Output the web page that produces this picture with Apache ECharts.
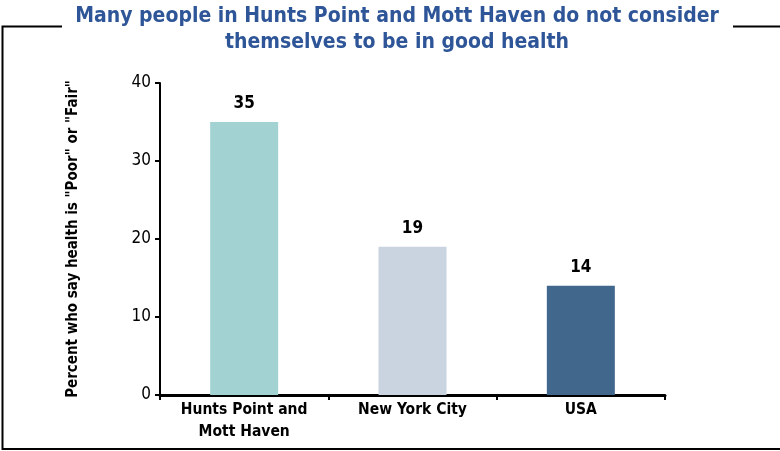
<!DOCTYPE html>
<html>
<head>
<meta charset="utf-8">
<script src="https://cdn.jsdelivr.net/npm/echarts@6/dist/echarts.min.js"></script>
<style>
  html, body { margin: 0; padding: 0; background: #fff; }
  #chart { width: 780px; height: 451px; }
</style>
</head>
<body>
<div id="chart"></div>
<script>
const categories = ['Hunts Point and\nMott Haven', 'New York City', 'USA'];
const values = [35, 19, 14];
const barColors = ['#a3d2d3', '#c9d4e0', '#41678c'];
const yTicks = { min: 0, max: 40, interval: 10 };

const chart = echarts.init(document.getElementById('chart'), null, { renderer: 'canvas' });
const font = '"DejaVu Sans Condensed", "DejaVu Sans", sans-serif';

const option = {
  animation: false,
  title: {
    text: 'Many people in Hunts Point and Mott Haven do not consider\nthemselves to be in good health',
    left: 397,
    textAlign: 'center',
    top: 2,
    padding: [2, 0, 2, 0],
    textStyle: {
      color: '#2e5597',
      fontSize: 21,
      fontWeight: 'bold',
      fontFamily: font,
      lineHeight: 26
    }
  },
  graphic: [
    {
      type: 'polyline',
      z: -1,
      shape: { points: [[62, 26.5], [2.5, 26.5], [2.5, 449], [780, 449]] },
      style: { stroke: '#000', lineWidth: 2, fill: null }
    },
    {
      type: 'line',
      z: -1,
      shape: { x1: 733, y1: 26.5, x2: 780, y2: 26.5 },
      style: { stroke: '#000', lineWidth: 2 }
    }
  ],
  grid: { left: 160, right: 115, top: 83, bottom: 56 },
  xAxis: {
    type: 'category',
    data: categories,
    axisLine: { lineStyle: { color: '#000', width: 3 } },
    axisTick: { show: true, length: 5, lineStyle: { color: '#000', width: 2 } },
    axisLabel: {
      color: '#000',
      fontSize: 15.5,
      fontWeight: 'bold',
      fontFamily: font,
      lineHeight: 22,
      margin: 4
    }
  },
  yAxis: {
    type: 'value',
    min: yTicks.min,
    max: yTicks.max,
    interval: yTicks.interval,
    name: 'Percent who say health is "Poor" or "Fair"',
    nameLocation: 'middle',
    nameGap: 79,
    nameTextStyle: {
      color: '#000',
      fontSize: 15,
      fontWeight: 'bold',
      fontFamily: font
    },
    axisLine: { show: true, lineStyle: { color: '#000', width: 2 } },
    axisTick: { show: true, length: 5, lineStyle: { color: '#000', width: 2 } },
    splitLine: { show: false },
    axisLabel: {
      color: '#000',
      fontSize: 17,
      fontFamily: font,
      margin: 9
    }
  },
  series: [
    {
      type: 'bar',
      barWidth: 68,
      data: values.map((v, i) => ({ value: v, itemStyle: { color: barColors[i] } })),
      label: {
        show: true,
        position: 'top',
        distance: 10,
        color: '#000',
        fontSize: 17,
        fontWeight: 'bold',
        fontFamily: font
      }
    }
  ]
};

chart.setOption(option);
</script>
</body>
</html>
